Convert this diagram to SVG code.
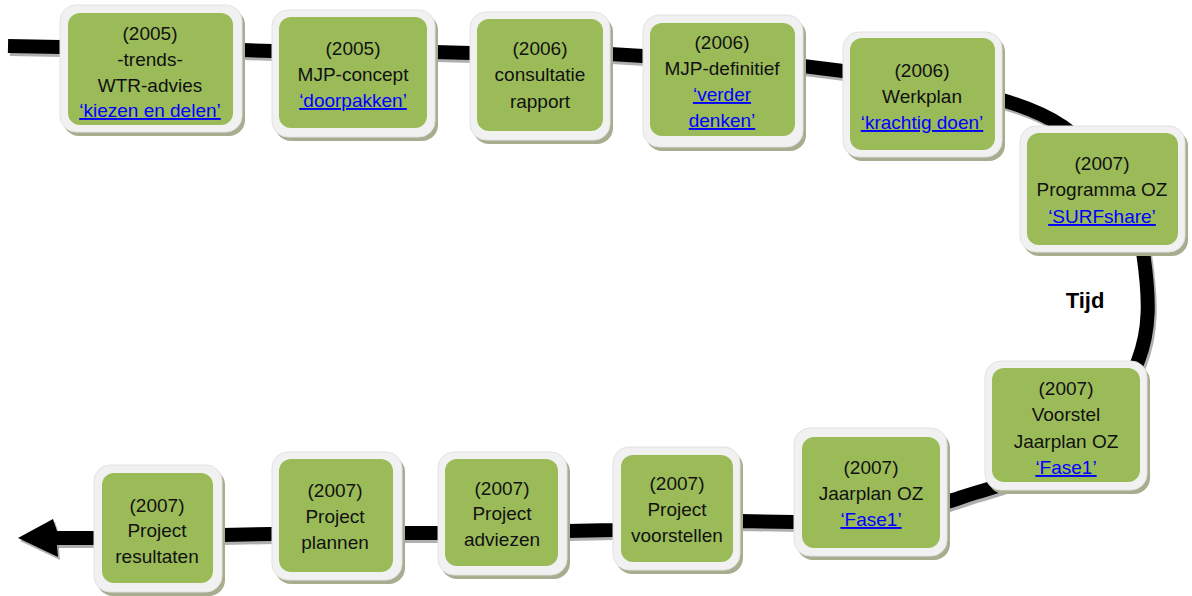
<svg xmlns="http://www.w3.org/2000/svg" width="1192" height="596" viewBox="0 0 1192 596">
<defs>
<style>
.sh{fill:#a7ad8e;}
.out{fill:#f1f1f1;stroke:#e2e2e2;stroke-width:1;}
.in{fill:#9bbb59;}
text{font-family:"Liberation Sans",Arial,sans-serif;font-size:19px;fill:#111;text-anchor:middle;}
.lk{fill:#0000ff;text-decoration:underline;}
.tl{fill:none;stroke:#000;stroke-width:14;stroke-linejoin:round;}
.tls{fill:none;stroke:#7a7a7a;stroke-opacity:0.6;stroke-width:14;stroke-linejoin:round;}
.tijd{font-size:22px;font-weight:bold;fill:#000;}
</style>
</defs>
<rect width="1192" height="596" fill="#fff"/>
<g id="connectors">
<g transform="translate(2,3)">
<path class="tls" d="M8,46 L60,47 L242,50 L272,51 L435,52 L470,53 L610,54 L643,56 L803,66 L843,71 L1002,100 C1030,108 1050,118 1062,126 C1110,160 1140,210 1143,252 C1150,300 1150,330 1138,361 C1110,430 1040,475 985,490 C970,494 960,498 947,502 L794,522 L740,521 L613,530 L567,531 L438,533 L402,533 L272,534 L222,535 L94,538 L56,538"/>
<polygon fill="#7a7a7a" fill-opacity="0.6" points="18,538 53,519 57,531 57,545 58,557"/>
</g>
<path class="tl" d="M8,46 L60,47 L242,50 L272,51 L435,52 L470,53 L610,54 L643,56 L803,66 L843,71 L1002,100 C1030,108 1050,118 1062,126 C1110,160 1140,210 1143,252 C1150,300 1150,330 1138,361 C1110,430 1040,475 985,490 C970,494 960,498 947,502 L794,522 L740,521 L613,530 L567,531 L438,533 L402,533 L272,534 L222,535 L94,538 L56,538"/>
<polygon fill="#000" points="18,538 53,519 57,531 57,545 58,557"/>
<text class="tijd" x="1085" y="308">Tijd</text>
</g>
<g id="n1">
<rect class="sh" x="63" y="9" width="182" height="127" rx="16"/>
<rect class="out" x="60" y="5" width="182" height="127" rx="16"/>
<rect class="in" x="68" y="13" width="165" height="112" rx="12"/>
<text x="150" y="40">(2005)</text>
<text x="150" y="66">-trends-</text>
<text x="150" y="92">WTR-advies</text>
<text x="150" y="117" class="lk">‘kiezen en delen’</text>
</g>
<g id="n2">
<rect class="sh" x="275" y="14" width="163" height="127" rx="16"/>
<rect class="out" x="272" y="10" width="163" height="127" rx="16"/>
<rect class="in" x="279" y="17" width="148" height="111" rx="12"/>
<text x="353" y="55">(2005)</text>
<text x="353" y="81">MJP-concept</text>
<text x="353" y="107" class="lk">‘doorpakken’</text>
</g>
<g id="n3">
<rect class="sh" x="473" y="16" width="140" height="128" rx="16"/>
<rect class="out" x="470" y="12" width="140" height="128" rx="16"/>
<rect class="in" x="477" y="19" width="126" height="112" rx="12"/>
<text x="540" y="55">(2006)</text>
<text x="540" y="81">consultatie</text>
<text x="540" y="108">rapport</text>
</g>
<g id="n4">
<rect class="sh" x="646" y="19" width="160" height="132" rx="16"/>
<rect class="out" x="643" y="15" width="160" height="132" rx="16"/>
<rect class="in" x="650" y="23" width="145" height="113" rx="12"/>
<text x="722" y="49">(2006)</text>
<text x="722" y="75">MJP-definitief</text>
<text x="722" y="101" class="lk">‘verder</text>
<text x="722" y="127" class="lk">denken’</text>
</g>
<g id="n5">
<rect class="sh" x="846" y="36" width="159" height="125" rx="16"/>
<rect class="out" x="843" y="32" width="159" height="125" rx="16"/>
<rect class="in" x="850" y="38" width="145" height="112" rx="12"/>
<text x="922" y="77">(2006)</text>
<text x="922" y="103">Werkplan</text>
<text x="922" y="129" class="lk">‘krachtig doen’</text>
</g>
<g id="n6">
<rect class="sh" x="1023" y="130" width="165" height="126" rx="16"/>
<rect class="out" x="1020" y="126" width="165" height="126" rx="16"/>
<rect class="in" x="1027" y="133" width="151" height="112" rx="12"/>
<text x="1102" y="170">(2007)</text>
<text x="1102" y="196">Programma OZ</text>
<text x="1102" y="223" class="lk">‘SURFshare’</text>
</g>
<g id="n7">
<rect class="sh" x="988" y="365" width="162" height="129" rx="16"/>
<rect class="out" x="985" y="361" width="162" height="129" rx="16"/>
<rect class="in" x="992" y="368" width="148" height="114" rx="12"/>
<text x="1066" y="395">(2007)</text>
<text x="1066" y="421">Voorstel</text>
<text x="1066" y="448">Jaarplan OZ</text>
<text x="1066" y="474" class="lk">‘Fase1’</text>
</g>
<g id="n8">
<rect class="sh" x="797" y="432" width="153" height="128" rx="16"/>
<rect class="out" x="794" y="428" width="153" height="128" rx="16"/>
<rect class="in" x="802" y="437" width="138" height="111" rx="12"/>
<text x="871" y="474">(2007)</text>
<text x="871" y="500">Jaarplan OZ</text>
<text x="871" y="526" class="lk">‘Fase1’</text>
</g>
<g id="n9">
<rect class="sh" x="616" y="451" width="127" height="123" rx="16"/>
<rect class="out" x="613" y="447" width="127" height="123" rx="16"/>
<rect class="in" x="621" y="455" width="112" height="107" rx="12"/>
<text x="677" y="490">(2007)</text>
<text x="677" y="516">Project</text>
<text x="677" y="542">voorstellen</text>
</g>
<g id="n10">
<rect class="sh" x="441" y="456" width="129" height="123" rx="16"/>
<rect class="out" x="438" y="452" width="129" height="123" rx="16"/>
<rect class="in" x="445" y="459" width="113" height="107" rx="12"/>
<text x="502" y="495">(2007)</text>
<text x="502" y="520">Project</text>
<text x="502" y="546">adviezen</text>
</g>
<g id="n11">
<rect class="sh" x="275" y="456" width="130" height="128" rx="16"/>
<rect class="out" x="272" y="452" width="130" height="128" rx="16"/>
<rect class="in" x="279" y="459" width="114" height="113" rx="12"/>
<text x="335" y="497">(2007)</text>
<text x="335" y="523">Project</text>
<text x="335" y="549">plannen</text>
</g>
<g id="n12">
<rect class="sh" x="97" y="469" width="128" height="127" rx="16"/>
<rect class="out" x="94" y="465" width="128" height="127" rx="16"/>
<rect class="in" x="102" y="473" width="111" height="110" rx="12"/>
<text x="157" y="512">(2007)</text>
<text x="157" y="537">Project</text>
<text x="157" y="563">resultaten</text>
</g>
</svg>
